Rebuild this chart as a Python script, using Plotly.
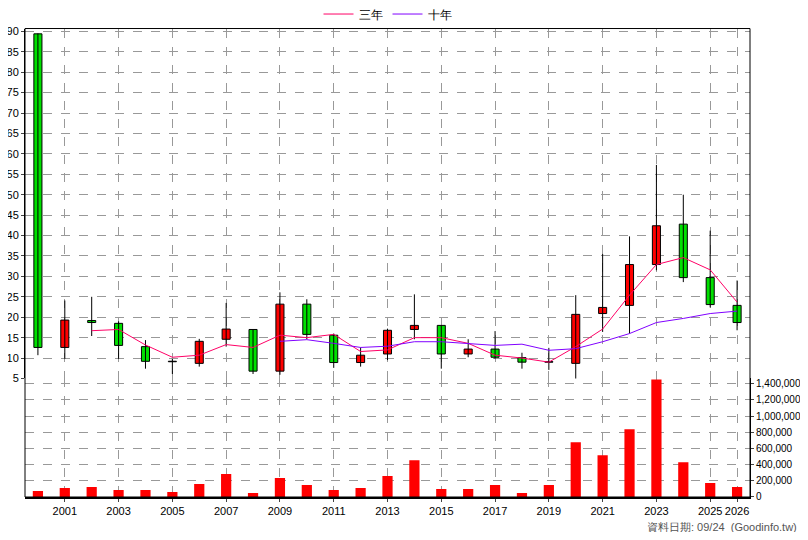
import plotly.graph_objects as go

years = list(range(2000, 2027))
opens  = [89.4,12.6,19.2,18.5,12.8,9.1,8.7,14.6,17.0,6.8,23.2,15.6,8.9,11.0,17.0,18.0,11.0,12.2,10.1,9.0,8.7,20.9,22.9,32.9,42.8,29.7,22.9]
highs  = [89.5,24.1,25.0,19.0,14.4,9.8,14.7,23.5,17.0,26.1,24.4,16.0,12.6,17.2,25.6,18.0,14.6,16.6,11.3,12.5,25.4,35.5,39.8,57.3,50.0,41.2,29.0]
lows   = [10.7,9.8,15.4,9.8,7.4,6.1,7.9,12.8,6.1,5.9,14.6,7.6,7.9,9.5,14.6,7.4,10.2,9.8,7.4,7.1,4.5,16.4,16.0,31.5,28.6,22.4,16.8]
closes = [12.6,19.3,18.7,13.1,9.2,9.1,14.1,17.1,6.8,23.2,15.8,8.9,10.7,16.8,18.0,11.0,12.2,10.2,9.0,9.0,20.7,22.4,32.9,42.4,29.7,23.1,18.7]
ma3_years = list(range(2002, 2027))
ma3 = [16.7,17.0,13.2,10.2,10.7,13.3,12.6,15.6,15.0,15.8,11.6,12.0,15.0,15.0,13.6,10.7,10.0,9.0,12.8,17.1,25.4,32.9,34.6,31.6,23.7]
ma10_years = list(range(2009, 2027))
ma10 = [14.1,14.5,13.6,12.6,12.9,14.0,14.0,13.6,13.1,13.4,11.9,12.3,14.0,16.0,18.7,19.7,20.9,21.5]
volumes = [74000,111000,123000,86000,86000,62000,160000,283000,49000,234000,148000,86000,111000,259000,456000,99000,99000,148000,49000,148000,678000,517000,838000,1454000,431000,172000,123000]
tick_years = [2001,2003,2005,2007,2009,2011,2013,2015,2017,2019,2021,2023,2025,2026]

fig = go.Figure()
wx, wy = [], []
for x, h, l in zip(years, highs, lows):
    wx += [x, x, None]
    wy += [l, h, None]
fig.add_trace(go.Scatter(x=wx, y=wy, mode="lines", line=dict(color="black", width=1),
                         showlegend=False, hoverinfo="skip", xaxis="x2", yaxis="y2"))
base = [min(o, c) for o, c in zip(opens, closes)]
height = [max(abs(c - o), 0.12) for o, c in zip(opens, closes)]
colors = ["#ff0000" if c > o else ("#00e000" if c < o else "black") for o, c in zip(opens, closes)]
fig.add_trace(go.Bar(x=years, y=height, base=base, width=0.3,
                     marker=dict(color=colors, line=dict(color="black", width=1)),
                     showlegend=False, xaxis="x2", yaxis="y2"))
fig.add_trace(go.Scatter(x=ma3_years, y=ma3, mode="lines", name="三年",
                         line=dict(color="#ff0066", width=1), xaxis="x2", yaxis="y2"))
fig.add_trace(go.Scatter(x=ma10_years, y=ma10, mode="lines", name="十年",
                         line=dict(color="#8000ff", width=1), xaxis="x2", yaxis="y2"))
fig.add_trace(go.Bar(x=years, y=volumes, marker=dict(color="#ff0000", line=dict(width=0)),
                     width=0.38, showlegend=False, xaxis="x", yaxis="y"))

grid = dict(showgrid=True, gridcolor="#999999", griddash="dash", gridwidth=1)
base_ax = dict(zeroline=False, automargin=False)
fig.update_layout(
    width=792, height=524, paper_bgcolor="white", plot_bgcolor="white",
    margin=dict(l=17, r=50, t=19, b=35),
    font=dict(family="Liberation Sans, Arial", size=11, color="black"),
    showlegend=True,
    legend=dict(orientation="h", x=0.5, xanchor="center", yref="container", y=0.9885, yanchor="middle",
                font=dict(size=12), bgcolor="rgba(0,0,0,0)"),
    xaxis=dict(domain=[0, 1], range=[1999.52, 2026.48], tickmode="array", tickvals=tick_years,
               ticktext=[str(y) for y in tick_years], tickangle=0, ticks="outside", ticklen=3,
               showline=True, linecolor="black", linewidth=2,
               anchor="y", **grid, **base_ax),
    xaxis2=dict(domain=[0, 1], range=[1999.52, 2026.48], tickmode="array", tickvals=tick_years,
                showticklabels=False, anchor="y2", matches="x", showline=False,
                **grid, **base_ax),
    yaxis=dict(domain=[0, 0.253], range=[0, 1466000], side="right", tickvals=list(range(0, 1400001, 200000)),
               tickformat=",d", ticks="outside", ticklen=3, tickfont=dict(size=10), anchor="x",
               showline=True, linecolor="black", linewidth=1, **grid, **base_ax),
    yaxis2=dict(domain=[0.253, 1], range=[5, 90.7], tickvals=list(range(5, 91, 5)),
                ticks="outside", ticklen=3, anchor="x2",
                showline=True, linecolor="black", linewidth=1, **grid, **base_ax),
    barmode="overlay",
    shapes=[dict(type="rect", xref="paper", yref="paper", x0=0, x1=1, y0=0, y1=1,
                 line=dict(color="black", width=1), layer="above")],
)
fig.add_annotation(text="資料日期: 09/24  (Goodinfo.tw)", xref="paper", yref="paper",
                   x=1.0676, y=-0.064, xanchor="right", yanchor="middle", showarrow=False,
                   font=dict(size=11, color="#555555"))
fig.write_html("out.html")
